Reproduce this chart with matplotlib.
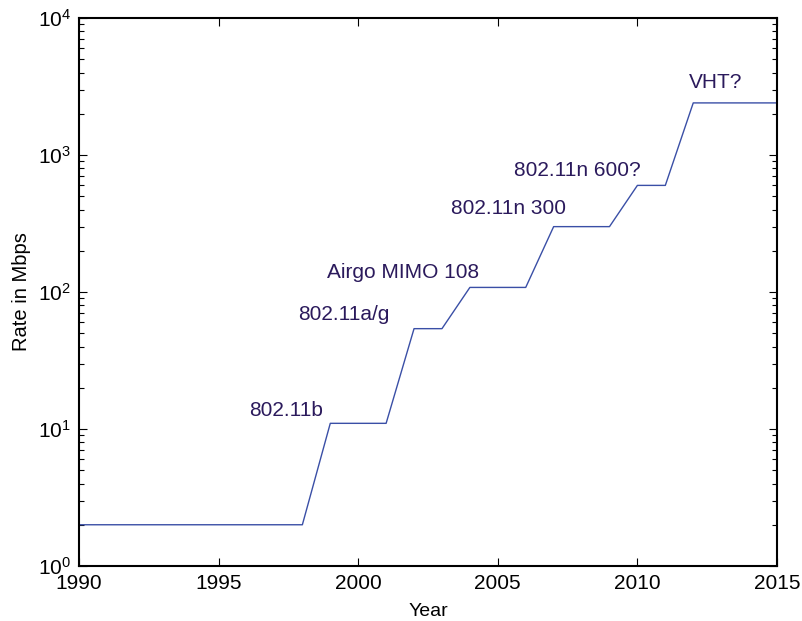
import matplotlib.pyplot as plt
import numpy as np

plt.rcParams['font.family'] = ['Liberation Sans', 'DejaVu Sans']

# WLAN peak rate over time (step-like ramp between standards)
years = [1990, 1998, 1999, 2001, 2002, 2003, 2004, 2006, 2007, 2009, 2010, 2011, 2012, 2015]
rates = [2, 2, 11, 11, 54, 54, 108, 108, 300, 300, 600, 600, 2400, 2400]

labels = ['802.11b', '802.11a/g', 'Airgo MIMO 108', '802.11n 300', '802.11n 600?', 'VHT?']
label_x = [1997.4, 1999.5, 2001.6, 2005.4, 2007.85, 2012.8]
label_y = [11.6, 58, 118, 345, 660, 2900]

txt_color = '#2b1a5c'
line_color = '#3a4fa6'

fig = plt.figure(figsize=(8.02, 6.21), dpi=100)
ax = fig.add_axes([79 / 802, 55 / 621, 698 / 802, 548 / 621])

ax.plot(years, rates, color=line_color, lw=1.0)
for t, x, y in zip(labels, label_x, label_y):
    ax.text(x, y, t, color=txt_color, fontsize=15, ha='center', va='bottom')

ax.set_yscale('log')
ax.set_xlim(1990, 2015)
ax.set_ylim(1, 1e4)
ax.set_xticks([1990, 1995, 2000, 2005, 2010, 2015])
ax.set_xlabel('Year', fontsize=14, labelpad=7)
ax.set_ylabel('Rate in Mbps', fontsize=14.5, labelpad=5)

ax.tick_params(which='both', direction='in', top=True, right=True, labelsize=15, pad=6)
ax.tick_params(which='major', length=6, width=0.8)
ax.tick_params(which='minor', length=3.5, width=0.8)
ax.tick_params(axis='x', which='minor', top=False, bottom=False)
for s in ax.spines.values():
    s.set_linewidth(1.5)

fig.savefig('out.png', dpi=100)
